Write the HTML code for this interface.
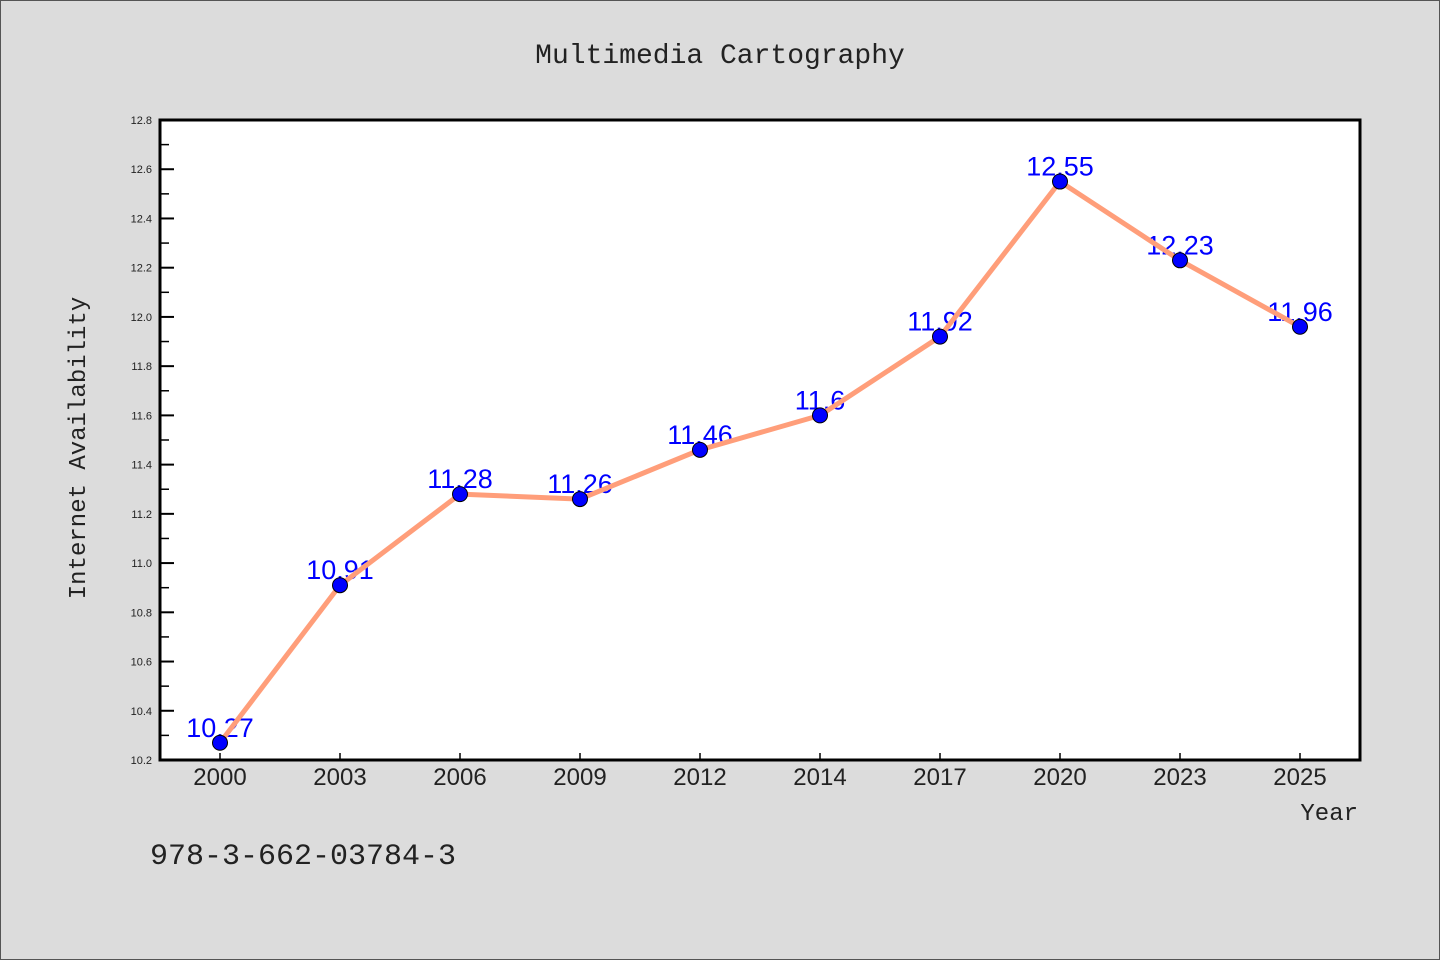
<!DOCTYPE html>
<html><head><meta charset="utf-8"><style>
body{margin:0;background:#dcdcdc;}
svg{display:block;font-family:"Liberation Mono","DejaVu Sans Mono",monospace;}
</style></head><body>
<svg width="1440" height="960" xmlns="http://www.w3.org/2000/svg">
<rect x="0.5" y="0.5" width="1439" height="959" fill="#dcdcdc" stroke="#555"/>
<text x="720" y="63" text-anchor="middle" font-size="28" fill="#222">Multimedia Cartography</text>
<rect x="160" y="120" width="1200" height="640" fill="#fff"/>
<g id="grid"></g>
<g id="series"></g>
<rect x="160" y="120" width="1200" height="640" fill="none" stroke="#000" stroke-width="3"/>
<text transform="translate(85,448) rotate(-90)" text-anchor="middle" font-size="24" fill="#222">Internet Availability</text>
<text x="1358" y="820" text-anchor="end" font-size="24" fill="#222">Year</text>
<text x="150" y="864" font-size="30" fill="#222">978-3-662-03784-3</text>
</svg>
<script>
const categories=["2000","2003","2006","2009","2012","2014","2017","2020","2023","2025"];
const values=[10.27,10.91,11.28,11.26,11.46,11.6,11.92,12.55,12.23,11.96];
const valueLabels=["10.27","10.91","11.28","11.26","11.46","11.6","11.92","12.55","12.23","11.96"];
const yTicks=[10.2,10.4,10.6,10.8,11.0,11.2,11.4,11.6,11.8,12.0,12.2,12.4,12.6,12.8];
const yMin=10.2,yMax=12.8,L=160,R=1360,T=120,B=760;
const NS="http://www.w3.org/2000/svg";
const xs=i=>L+(R-L)/categories.length*(i+0.5);
const ys=v=>B-(v-yMin)/(yMax-yMin)*(B-T);
function mk(t,a,p){const e=document.createElementNS(NS,t);for(const k in a)e.setAttribute(k,a[k]);p.appendChild(e);return e;}
const g=document.getElementById('grid'),s=document.getElementById('series');
yTicks.forEach((v,i)=>{
 const y=ys(v);
 const l=mk('line',{x1:L,x2:L+14,y1:y,y2:y,stroke:'#000','stroke-width':2},g);
 
 
 const t=mk('text',{x:L-8,y:y+4,'text-anchor':'end','font-size':11,fill:'#222','font-family':'Liberation Sans, sans-serif'},g);
 t.textContent=v.toFixed(1);
 
 
 if(i<yTicks.length-1){const ym=ys(v+0.1);
  const m=mk('line',{x1:L,x2:L+9,y1:ym,y2:ym,stroke:'#000','stroke-width':1.5},g);
  
  }
});
categories.forEach((c,i)=>{
 const x=xs(i);
 const l=mk('line',{x1:x,x2:x,y1:B,y2:B-7,stroke:'#000','stroke-width':1.5},g);
 
 
 const t=mk('text',{x:x,y:B+25,'text-anchor':'middle','font-size':24,fill:'#222','font-family':'Liberation Sans, sans-serif'},g);
 t.textContent=c;
 
 
});
values.forEach((v,i)=>{
 const t=mk('text',{x:xs(i),y:ys(v)-6,'text-anchor':'middle','font-size':27,fill:'#0000ff','font-family':'Liberation Sans, sans-serif'},s);
 t.textContent=valueLabels[i];
 
 
});
const line=mk('polyline',{points:values.map((v,i)=>xs(i)+','+ys(v)).join(' '),fill:'none',stroke:'#ff9e7a','stroke-width':5,'stroke-linejoin':'round'},s);


values.forEach((v,i)=>{
 const c=mk('circle',{cx:xs(i),cy:ys(v),r:7.5,fill:'#0000ff',stroke:'#000','stroke-width':1},s);
 
 
});
</script>
</body></html>
